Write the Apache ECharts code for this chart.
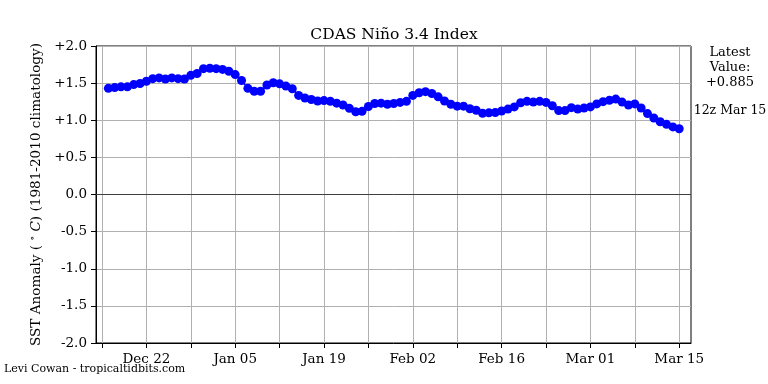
<!DOCTYPE html>
<html>
<head>
<meta charset="utf-8">
<script src="https://cdn.jsdelivr.net/npm/echarts@6/dist/echarts.min.js"></script>
<style>html,body{margin:0;padding:0;background:#fff}#c{width:768px;height:384px}</style>
</head>
<body>
<div id="c"></div>
<script>
// Daily Niño 3.4 values, Dec 16 2023 -> Mar 15 2024
const startDate = '2023-12-16';
const tickOrigin = '2023-12-15';
const values = [
  1.43, 1.44, 1.45, 1.45, 1.48, 1.495, 1.525, 1.56, 1.57, 1.555, 1.57, 1.56, 1.555, 1.605, 1.63, 1.695,
  1.70, 1.695, 1.685, 1.66, 1.615, 1.535, 1.43, 1.39, 1.39, 1.475, 1.505, 1.49, 1.46, 1.425, 1.335, 1.30,
  1.28, 1.26, 1.265, 1.255, 1.23, 1.205, 1.16, 1.115, 1.12, 1.185, 1.225, 1.23, 1.215, 1.225, 1.24,
  1.255, 1.335, 1.37, 1.385, 1.36, 1.315, 1.26, 1.215, 1.19, 1.19, 1.155, 1.135, 1.095, 1.10, 1.105,
  1.125, 1.15, 1.18, 1.235, 1.255, 1.245, 1.255, 1.24, 1.195, 1.13, 1.13, 1.17, 1.15, 1.165,
  1.18, 1.22, 1.25, 1.27, 1.285, 1.245, 1.205, 1.22, 1.165, 1.09, 1.03, 0.98, 0.945, 0.91, 0.885
];
const tickLabels = ['Dec 22', 'Jan 05', 'Jan 19', 'Feb 02', 'Feb 16', 'Mar 01', 'Mar 15'];
const latestValue = '+0.885';
const latestTime = '12z Mar 15';

const DAY = 86400000;
const origin = Date.parse(tickOrigin + 'T00:00:00Z');
const start = Date.parse(startDate + 'T00:00:00Z');
const startOffset = (start - origin) / DAY;
const seriesData = values.map((v, i) => [startOffset + i, v]);
const weekTicks = [];
for (let d = 0; d <= 91; d += 7) weekTicks.push(d);
const labelTicks = tickLabels.map((_, i) => 7 + 14 * i);
const labelMap = {};
labelTicks.forEach((d, i) => { labelMap[d] = tickLabels[i]; });

const serif = '"DejaVu Serif", serif';
const chart = echarts.init(document.getElementById('c'), null, {renderer: 'canvas'});
chart.setOption({
  animation: false,
  backgroundColor: '#fff',
  title: {
    text: 'CDAS Niño 3.4 Index',
    left: 389, textAlign: 'center', top: 22,
    textStyle: {fontFamily: serif, fontSize: 15.5, fontWeight: 'normal', color: '#000'}
  },
  graphic: [
    {type: 'text', x: 730, y: 45, style: {text: 'Latest\nValue:\n' + latestValue, fontFamily: serif, fontSize: 13, lineHeight: 15, align: 'center', fill: '#000'}},
    {type: 'text', x: 730, y: 104, style: {text: latestTime, fontFamily: serif, fontSize: 12.5, align: 'center', fill: '#000'}},
    {type: 'text', x: 4, y: 364, style: {text: 'Levi Cowan - tropicaltidbits.com', fontFamily: serif, fontSize: 11, fill: '#000'}}
  ],
  grid: {left: 96, right: 77, top: 46, bottom: 41, show: true, borderColor: '#000', borderWidth: 1, backgroundColor: 'transparent'},
  xAxis: {
    type: 'value', min: -0.946, max: 92.86,
    axisLine: {show: true, onZero: false, lineStyle: {color: '#000', width: 1}},
    axisTick: {show: true, customValues: weekTicks, length: 5, lineStyle: {color: '#000'}},
    axisLabel: {customValues: labelTicks, formatter: v => labelMap[Math.round(v)] || '', fontFamily: serif, fontSize: 13.5, color: '#000', margin: 9},
    splitLine: {show: true, lineStyle: {color: '#b0b0b0', width: 1}}
  },
  yAxis: {
    type: 'value', min: -2, max: 2, interval: 0.5,
    name: 'SST Anomaly ( {s|∘} {i|C}) (1981-2010 climatology)',
    nameLocation: 'middle', nameGap: 52, nameRotate: 90,
    nameTextStyle: {fontFamily: serif, fontSize: 13.6, color: '#000',
      rich: {s: {fontFamily: serif, fontSize: 9.5, color: '#000', verticalAlign: 'top', padding: [0, 0, 6, 0]}, i: {fontFamily: serif, fontSize: 13.6, fontStyle: 'italic', color: '#000'}}},
    axisLine: {show: true, onZero: false, lineStyle: {color: '#000', width: 1}},
    axisTick: {show: true, length: 5, lineStyle: {color: '#000'}},
    axisLabel: {fontFamily: serif, fontSize: 13.5, color: '#000', margin: 9,
      formatter: v => (v > 0 ? '+' : '') + v.toFixed(1)},
    splitLine: {show: true, lineStyle: {color: '#b0b0b0', width: 1}}
  },
  series: [{
    type: 'line',
    data: seriesData,
    symbol: 'circle', symbolSize: 9,
    lineStyle: {color: '#0000ff', width: 1.5},
    itemStyle: {color: '#0000ff'},
    z: 5,
    markLine: {
      silent: true, symbol: ['none', 'none'], label: {show: false},
      lineStyle: {color: '#404040', width: 1, type: 'solid'},
      data: [{yAxis: 0}], z: 3
    }
  }]
});
</script>
</body>
</html>
